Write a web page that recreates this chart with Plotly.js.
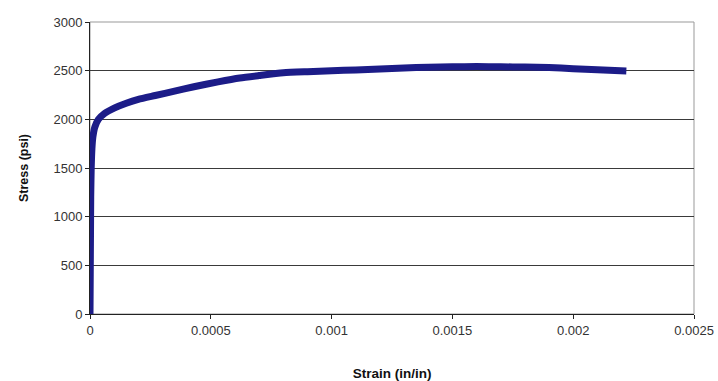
<!DOCTYPE html>
<html>
<head>
<meta charset="utf-8">
<script src="https://cdn.plot.ly/plotly-3.0.1.min.js"></script>
<style>html,body{margin:0;padding:0;background:#fff;}#chart{width:718px;height:381px;}</style>
</head>
<body>
<div id="chart"></div>
<script>
// Strain (in/in) and Stress (psi)
const strain = [0, 0.000001, 0.000002, 0.000003, 0.000005, 0.000008, 0.000012, 0.00002, 0.000035, 0.00006, 0.0001, 0.00015, 0.0002, 0.00027, 0.00035, 0.00043, 0.00053, 0.00062, 0.0007, 0.0008, 0.0009, 0.001, 0.0011, 0.0012, 0.0013, 0.0014, 0.0015, 0.0016, 0.0017, 0.0018, 0.0019, 0.002, 0.0021, 0.00222];
const stress = [0, 400, 800, 1200, 1500, 1700, 1820, 1920, 2000, 2060, 2115, 2165, 2205, 2245, 2290, 2335, 2385, 2425, 2450, 2478, 2490, 2500, 2508, 2518, 2528, 2535, 2540, 2542, 2540, 2537, 2532, 2520, 2510, 2497];
const xTicks = [0, 0.0005, 0.001, 0.0015, 0.002, 0.0025];
const xTickText = ['0', '0.0005', '0.001', '0.0015', '0.002', '0.0025'];
const yTicks = [0, 500, 1000, 1500, 2000, 2500, 3000];

const trace = {
  x: strain, y: stress, type: 'scatter', mode: 'lines',
  line: {color: '#1c1c88', width: 7, shape: 'spline', smoothing: 0.6},
  hoverinfo: 'skip'
};

const layout = {
  width: 718, height: 381,
  margin: {l: 90, r: 24, t: 22, b: 67},
  paper_bgcolor: '#ffffff', plot_bgcolor: '#ffffff',
  showlegend: false,
  font: {family: 'Liberation Sans, Arial, sans-serif', color: '#333'},
  xaxis: {
    range: [0, 0.0025], tickmode: 'array', tickvals: xTicks, ticktext: xTickText,
    showgrid: false, zeroline: false, showline: true, linecolor: '#222', linewidth: 1,
    ticks: 'outside', ticklen: 4, tickcolor: '#222',
    tickfont: {size: 13, color: '#333'},
    title: {text: '<b>Strain (in/in)</b>', font: {size: 13.5, color: '#111'}, standoff: 32}
  },
  yaxis: {
    range: [0, 3000], tickmode: 'array', tickvals: yTicks,
    showgrid: true, gridcolor: '#3a3a3a', gridwidth: 1,
    zeroline: false, showline: true, linecolor: '#222', linewidth: 1,
    ticks: 'outside', ticklen: 4, tickcolor: '#222',
    tickfont: {size: 13, color: '#333'},
    title: {text: '<b>Stress (psi)</b>', font: {size: 12.5, color: '#111'}, standoff: 22}
  },
  shapes: [{type: 'rect', xref: 'paper', yref: 'paper', x0: 0, x1: 1, y0: 0, y1: 1,
            line: {color: '#999', width: 1}, layer: 'below'}]
};

Plotly.newPlot('chart', [trace], layout, {staticPlot: true, displayModeBar: false});
</script>
</body>
</html>
